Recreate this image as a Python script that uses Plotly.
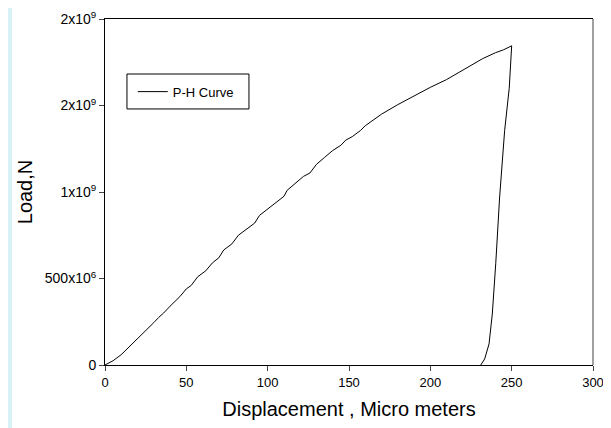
import plotly.graph_objects as go

# displacement (micro meters) and load (N)
disp = [0, 5, 10, 15, 20, 25, 30, 33, 36, 40, 43, 46, 50, 53, 57, 62, 66, 70, 73, 78,
        82, 88, 92, 95, 100, 105, 110, 112, 118, 122, 126, 130, 135, 140, 145, 148, 152,
        157, 160, 165, 170, 180, 190, 200, 210, 218, 225, 232, 240, 245, 250,
        248.5, 245.7, 242.6, 240.2, 238.1, 236.1, 233.4, 231]
load_m = [0, 25, 60, 105, 150, 195, 245, 275, 300, 340, 365, 395, 440, 460, 510, 545, 590,
          620, 665, 700, 750, 790, 820, 865, 900, 935, 975, 1010, 1055, 1090, 1110, 1160,
          1200, 1240, 1270, 1300, 1320, 1355, 1383, 1418, 1450, 1505, 1555, 1605, 1650,
          1695, 1730, 1770, 1805, 1822, 1845,
          1600, 1357, 971, 585, 295, 122, 35, 0]
load = [v * 1e6 for v in load_m]

y_ticks = [0, 500e6, 1e9, 1.5e9, 2e9]
y_labels = ["0", "500x10<sup>6</sup>", "1x10<sup>9</sup>", "2x10<sup>9</sup>", "2x10<sup>9</sup>"]
x_ticks = [0, 50, 100, 150, 200, 250, 300]

fig = go.Figure()
fig.add_trace(go.Scatter(x=disp, y=load, mode='lines', name='P-H Curve',
                         line=dict(color='black', width=1)))

# light cyan strip on the left edge of the page
fig.add_shape(type='rect', xref='paper', yref='paper', x0=-0.2, x1=-0.1906, y0=-0.2, y1=1.05,
              fillcolor='#d6f2f6', line=dict(width=0), layer='below')
# grey right frame edge
fig.add_shape(type='line', xref='paper', yref='paper', x0=1, x1=1, y0=0, y1=1,
              line=dict(color='#808080', width=1.5))
# legend frame
fig.add_shape(type='rect', xref='paper', yref='paper', x0=0.045, x1=0.295, y0=0.740, y1=0.841,
              line=dict(color='black', width=1), fillcolor='white', layer='below')

fig.update_layout(
    width=603, height=420,
    margin=dict(l=97, r=18, t=11, b=63),
    paper_bgcolor='white', plot_bgcolor='white',
    font=dict(family='Liberation Sans, Arial', color='black', size=13),
    showlegend=True,
    legend=dict(x=0.057, y=0.79, xanchor='left', yanchor='middle',
                borderwidth=0, bgcolor='rgba(0,0,0,0)',
                font=dict(size=13), itemwidth=30),
    xaxis=dict(range=[0, 300], tickvals=x_ticks, ticks='outside', ticklen=5,
               showgrid=False, zeroline=False, showline=True, linecolor='black',
               linewidth=1, mirror=True, automargin=False, tickfont=dict(size=13),
               title=dict(text='Displacement , Micro meters', font=dict(size=20), standoff=13)),
    yaxis=dict(range=[0, 2e9], tickvals=y_ticks, ticktext=y_labels, ticks='outside',
               ticklen=5, showgrid=False, zeroline=False, showline=True, linecolor='black',
               linewidth=1, automargin=False, tickfont=dict(size=14),
               title=dict(text='Load,N', font=dict(size=20), standoff=6)),
)

fig.write_html("out.html")
